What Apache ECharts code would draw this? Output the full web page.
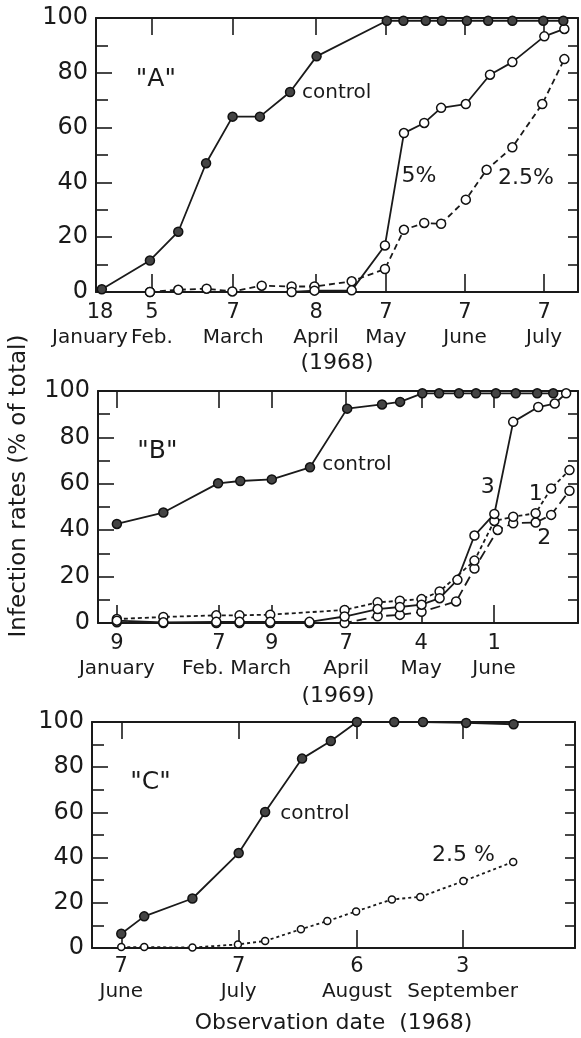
<!DOCTYPE html>
<html><head><meta charset="utf-8">
<script src="https://cdn.jsdelivr.net/npm/echarts@6.0.0/dist/echarts.min.js"></script>
<style>html,body{margin:0;padding:0;background:#fff}#c{width:581px;height:1038px}</style>
</head><body><div id="c"></div>
<script>
// ---------- Panel A (1968) ----------
const ticksA = [18, 38, 69.2, 101.1, 128, 158.4, 188.8];
const dayLabelsA = ['18', '5', '7', '8', '7', '7', '7'];
const monthLabelsA = ['January', 'Feb.', 'March', 'April', 'May', 'June', 'July'];
const yearA = '(1968)';
const controlA = [[18.7,1],[37.2,11.5],[48.1,22],[58.8,47],[69,64],[79.5,64],[91.1,73],[101.3,86],[128.3,99],[134.7,99],[143.3,99],[149.5,99],[159.1,99],[167.3,99],[176.6,99],[188.5,99],[196.2,99]];
const pct5A = [[37.2,0],[91.7,0],[100.5,0.5],[114.8,0.6],[127.6,17],[134.9,58],[142.7,61.7],[149.2,67.2],[158.7,68.6],[168,79.3],[176.6,83.9],[188.9,93.3],[196.6,96]];
const pct25A = [[37.2,0],[48.1,0.8],[59,1.2],[68.9,0.2],[80.2,2.3],[91.7,2],[100.5,2],[114.8,3.9],[127.6,8.4],[134.9,22.7],[142.7,25.2],[149.2,24.9],[158.7,33.7],[166.7,44.6],[176.6,52.8],[188.1,68.6],[196.6,85]];
const notesA = [['"A"', 39.5, 77.5, 'c'], ['control', 95.7, 72.7, 'l'], ['5%', 134, 42.4, 'l'], ['2.5%', 171.1, 41.6, 'l']];

// ---------- Panel B (1969) ----------
const ticksB = [9, 48.5, 69, 97.8, 126.9, 155.1];
const dayLabelsB = ['9', '7', '9', '7', '4', '1'];
const monthLabelsB = ['January', 'Feb.', 'March', 'April', 'May', 'June'];
const yearB = '(1969)';
const controlB = [[9,42.7],[27,47.6],[48.2,60.2],[56.8,61.2],[69,61.9],[83.8,67.1],[98.2,92.4],[111.7,94.2],[118.7,95.3],[127.3,99],[133.8,99],[141.5,99],[148.1,99],[155.8,99],[163.5,99],[171.8,99],[178,99]];
const line3B = [[9,1],[27,0.3],[47.5,0.5],[56.5,0.5],[68.4,0.5],[83.6,0.5],[97.2,2.8],[110,6],[118.6,6.9],[127,7.9],[134,10.7],[140.9,18.6],[147.5,37.7],[155.2,47],[162.5,86.7],[172.2,93.1],[178.6,94.6],[183,99]];
const line1B = [[9,1.7],[27,2.6],[47.5,3.3],[56.5,3.3],[68.4,3.6],[97.2,5.6],[110,8.9],[118.6,9.6],[127,10.3],[134,13.6],[147.5,26.9],[155.2,44],[162.5,45.8],[171.2,47.3],[177.2,58],[184.3,65.9]];
const line2B = [[9,0.3],[27,0],[47.5,0],[56.5,0],[68.4,0],[83.6,0],[97.2,0],[110,2.9],[118.6,3.5],[127,4.8],[140.4,9.3],[147.5,23.5],[156.5,40.1],[162.5,43],[171.2,43.3],[177.2,46.6],[184.3,57]];
const notesB = [['"B"', 24.7, 74.1, 'c'], ['control', 88.5, 68.4, 'l'], ['3', 152.6, 58.7, 'c'], ['1', 171.2, 55.6, 'c'], ['2', 174.5, 36.5, 'c']];

// ---------- Panel C (1968) ----------
const ticksC = [159, 189.2, 219.6, 246.8];
const dayLabelsC = ['7', '7', '6', '3'];
const monthLabelsC = ['June', 'July', 'August', 'September'];
const titleC = 'Observation date  (1968)';
const controlC = [[159,6.3],[164.9,14],[177.3,21.9],[189.2,42],[196,60.2],[205.5,83.8],[212.9,91.6],[219.6,100],[229.2,100],[236.6,100],[247.7,99.6],[259.9,99]];
const pct25C = [[159,0.4],[164.9,0.4],[177.3,0.2],[189,1.6],[196,3.1],[205.2,8.3],[212,11.9],[219.4,16.2],[228.6,21.5],[235.9,22.6],[247,29.6],[259.8,38.1]];
const notesC = [['"C"', 166.5, 73.3, 'c'], ['control', 199.9, 59.6, 'l'], ['2.5 %', 238.9, 41, 'l']];

const yTitle = 'Infection rates (% of total)';

// ---------- rendering ----------
const FONT = 'DejaVu Sans';
const INK = '#1a1a1a';
const chart = echarts.init(document.getElementById('c'), null, {renderer: 'canvas'});

const panels = [
  {grid: {left: 96, top: 18, width: 482, height: 274}, min: 16.46, max: 201.85,
   ticks: ticksA, days: dayLabelsA, months: monthLabelsA, name: yearA, nameGap: 60, labelMargin: 9,
   monthPad: {0: [0, 20, 0, 0]}, skipFirstTick: true, notes: notesA},
  {grid: {left: 94, top: 391, width: 484, height: 232}, min: 1.69, max: 187.6,
   ticks: ticksB, days: dayLabelsB, months: monthLabelsB, name: yearB, nameGap: 62, labelMargin: 9,
   monthPad: {1: [0, 32, 0, 0], 2: [0, 22, 0, 0]}, skipFirstTick: false, notes: notesB},
  {grid: {left: 92, top: 722, width: 483, height: 226}, min: 151.47, max: 275.7,
   ticks: ticksC, days: dayLabelsC, months: monthLabelsC, name: titleC, nameGap: 64, labelMargin: 7,
   monthPad: {}, skipFirstTick: false, notes: notesC}
];

const grids = [], xAxes = [], yAxes = [], series = [];
const rich = {
  d: {fontFamily: FONT, fontSize: 21, color: INK, lineHeight: 24, align: 'center'},
  m: {fontFamily: FONT, fontSize: 20, color: INK, lineHeight: 25, align: 'center'}
};
panels.forEach((p, gi) => {
  grids.push(p.grid);
  Object.keys(p.monthPad).forEach(k => {
    rich['m' + gi + '_' + k] = Object.assign({}, rich.m, {padding: p.monthPad[k]});
  });
  // a blank guard label at the axis minimum keeps ECharts' min-label overlap check away from the real labels
  const labelValues = [p.min].concat(p.ticks);
  const tickValues = p.skipFirstTick ? p.ticks.slice(1) : p.ticks;
  xAxes.push({
    type: 'value', gridIndex: gi, position: 'bottom', min: p.min, max: p.max,
    axisLine: {show: true, onZero: false, lineStyle: {color: INK, width: 2}},
    axisTick: {show: true, inside: true, length: 18, customValues: tickValues, lineStyle: {color: INK, width: 1.6}},
    axisLabel: {show: true, customValues: labelValues, interval: 0, hideOverlap: false, margin: p.labelMargin,
      showMinLabel: false, showMaxLabel: true,
      formatter: (v) => {
        const i = p.ticks.findIndex(t => Math.abs(t - v) < 0.01);
        if (i < 0) return ' ';
        const ms = rich['m' + gi + '_' + i] ? 'm' + gi + '_' + i : 'm';
        return '{d|' + p.days[i] + '}\n{' + ms + '|' + p.months[i] + '}';
      }, rich: rich},
    splitLine: {show: false},
    name: p.name, nameLocation: 'middle', nameGap: p.nameGap,
    nameTextStyle: {fontFamily: FONT, fontSize: 22, color: INK}
  });
  xAxes.push({
    type: 'value', gridIndex: gi, position: 'top', min: p.min, max: p.max,
    axisLine: {show: true, onZero: false, lineStyle: {color: INK, width: 2}},
    axisTick: {show: true, inside: true, length: 17, customValues: tickValues, lineStyle: {color: INK, width: 1.6}},
    axisLabel: {show: false}, splitLine: {show: false}
  });
  const left = {
    type: 'value', gridIndex: gi, position: 'left', min: 0, max: 100, interval: 20,
    axisLine: {show: true, onZero: false, lineStyle: {color: INK, width: 2}},
    axisTick: {show: true, inside: true, length: 16, lineStyle: {color: INK, width: 1.6}},
    minorTick: {show: true, splitNumber: 2, length: 12, lineStyle: {color: INK, width: 1.6}},
    axisLabel: {margin: 8, fontFamily: FONT, fontSize: 24, color: INK},
    splitLine: {show: false}
  };
  if (gi === 1) {
    left.name = yTitle;
    left.nameLocation = 'middle';
    left.nameRotate = 90;
    left.nameGap = 67;
    left.nameTextStyle = {fontFamily: FONT, fontSize: 23, color: INK, padding: [0, 0, 0, 42]};
  }
  yAxes.push(left);
  yAxes.push({
    type: 'value', gridIndex: gi, position: 'right', min: 0, max: 100, interval: 10,
    axisLine: {show: true, onZero: false, lineStyle: {color: INK, width: 2}},
    axisTick: {show: true, inside: true, length: 10, lineStyle: {color: INK, width: 1.6}},
    axisLabel: {show: false}, splitLine: {show: false}
  });
});

function lineSeries(gi, data, filled, dash, size) {
  return {
    type: 'line', xAxisIndex: gi * 2, yAxisIndex: gi * 2, data: data,
    symbol: 'circle', symbolSize: size || 9, showSymbol: true, clip: false, animation: false,
    lineStyle: {color: INK, width: 1.8, type: dash || 'solid'},
    itemStyle: filled ? {color: '#444', borderColor: '#111', borderWidth: 1.5}
                      : {color: '#fff', borderColor: '#111', borderWidth: 1.5},
    z: filled ? 4 : 3
  };
}

series.push(lineSeries(0, pct25A, false, [6, 4]));
series.push(lineSeries(0, pct5A, false));
series.push(lineSeries(0, controlA, true));

series.push(lineSeries(1, line2B, false, [10, 5]));
series.push(lineSeries(1, line1B, false, [4, 3]));
series.push(lineSeries(1, line3B, false));
series.push(lineSeries(1, controlB, true));

series.push(lineSeries(2, pct25C, false, [3, 3], 7));
series.push(lineSeries(2, controlC, true));

chart.setOption({
  animation: false,
  backgroundColor: '#fff',
  textStyle: {fontFamily: FONT},
  grid: grids, xAxis: xAxes, yAxis: yAxes, series: series
});

// text annotations, placed through each panel's own axes
const graphics = [];
panels.forEach((p, gi) => {
  p.notes.forEach(n => {
    const pt = chart.convertToPixel({xAxisIndex: gi * 2, yAxisIndex: gi * 2}, [n[1], n[2]]);
    const size = n[0] === 'control' ? 20 : (n[0].startsWith('"') ? 25 : 22);
    graphics.push({
      type: 'text', x: pt[0], y: pt[1], z: 100, silent: true,
      style: {text: n[0], fill: INK, font: size + 'px "' + FONT + '"',
        align: n[3] === 'c' ? 'center' : 'left', verticalAlign: 'middle'}
    });
  });
});
chart.setOption({graphic: graphics});
</script></body></html>
